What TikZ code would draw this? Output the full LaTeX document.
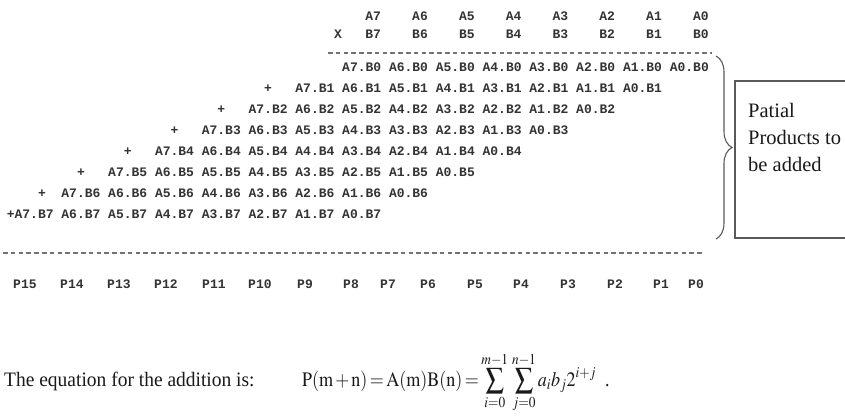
\documentclass[tikz,border=0pt]{standalone}
\usepackage{mathptmx}
\usepackage[no-math]{fontspec}
\setmainfont{Liberation Serif}
\setmonofont{Liberation Mono}
\usetikzlibrary{decorations.pathreplacing}
\tikzset{
  mono/.style={font=\ttfamily\bfseries\fontsize{13}{15}\selectfont, text=black!80, inner sep=0pt},
  rowtxt/.style={mono, anchor=base west},
  hdr/.style={mono, anchor=base},
  dashline/.style={draw=black!55, line width=1.3pt, dash pattern=on 4.6pt off 3.2pt},
  serif/.style={font=\fontsize{20.5}{27}\selectfont, text=black!90, inner sep=0pt},
  boxline/.style={draw=black!65, line width=1.4pt},
  bracestyle/.style={draw=black!65, line width=1.1pt, decorate, decoration={brace, amplitude=16pt}}
}
\begin{document}
\begin{tikzpicture}[x=1pt,y=-1pt]
\useasboundingbox (0,0) rectangle (845,416);
% header
\node[hdr] (x) at (338,38) {X};
\foreach \i/\j in {7/0,6/1,5/2,4/3,3/4,2/5,1/6,0/7}{
  \node[hdr] (a\i) at ({373.2+46.8*\j},20) {A\i};
  \node[hdr] (b\i) at ({373.2+46.8*\j},38) {B\i};
}
\coordinate (d1s) at (328,53);
\coordinate (d1e) at (712,53);
\draw[dashline] (d1s) -- (d1e);
% partial products
\node[rowtxt] (r0) at (342,71)   {A7.B0 A6.B0 A5.B0 A4.B0 A3.B0 A2.B0 A1.B0 A0.B0};
\node[rowtxt] (r1) at (264,92) {+\ \ \ A7.B1 A6.B1 A5.B1 A4.B1 A3.B1 A2.B1 A1.B1 A0.B1};
\node[rowtxt] (r2) at (217.2,113) {+\ \ \ A7.B2 A6.B2 A5.B2 A4.B2 A3.B2 A2.B2 A1.B2 A0.B2};
\node[rowtxt] (r3) at (170.4,134) {+\ \ \ A7.B3 A6.B3 A5.B3 A4.B3 A3.B3 A2.B3 A1.B3 A0.B3};
\node[rowtxt] (r4) at (123.6,155) {+\ \ \ A7.B4 A6.B4 A5.B4 A4.B4 A3.B4 A2.B4 A1.B4 A0.B4};
\node[rowtxt] (r5) at (76.8,176) {+\ \ \ A7.B5 A6.B5 A5.B5 A4.B5 A3.B5 A2.B5 A1.B5 A0.B5};
\node[rowtxt] (r6) at (37.8,197) {+\ \ A7.B6 A6.B6 A5.B6 A4.B6 A3.B6 A2.B6 A1.B6 A0.B6};
\node[rowtxt] (r7) at (6.6,218) {+A7.B7 A6.B7 A5.B7 A4.B7 A3.B7 A2.B7 A1.B7 A0.B7};
% brace and box
\coordinate (brt) at (716,56);
\coordinate (brb) at (716,239);
\draw[bracestyle] (brt) -- (brb);
\coordinate (bx1) at (850,81);
\coordinate (bx2) at (735,81);
\coordinate (bx3) at (735,238);
\coordinate (bx4) at (850,238);
\draw[boxline] (bx1) -- (bx2) -- (bx3) -- (bx4);
\node[serif, anchor=north west, align=left] (lbl) at (748,103) {Patial\\Products to\\be added};
% bottom line
\coordinate (d2s) at (3,253);
\coordinate (d2e) at (703,253);
\draw[dashline] (d2s) -- (d2e);
% result bits
\foreach \n/\xx in {15/13,14/60,13/107,12/154,11/202,10/248,9/297,8/343,7/380,6/420,5/467,4/513,3/560,2/607,1/653,0/688}{
  \node[rowtxt] (p\n) at (\xx,288) {P\n};
}
% equation
\node[serif, anchor=base west] (eqtxt) at (4,386) {\scalebox{0.95}[1]{The equation for the addition is:}};
\node[serif, anchor=base west] (eq) at (302,386) {\scalebox{0.88}[1]{\thickmuskip=2.5mu\medmuskip=2mu$\mathrm{P(m+n)=A(m)B(n)}=\displaystyle\sum_{i=0}^{m-1}\,\sum_{j=0}^{n-1}a_ib_j2^{i+j}$\ \ .}};
\end{tikzpicture}
\end{document}
